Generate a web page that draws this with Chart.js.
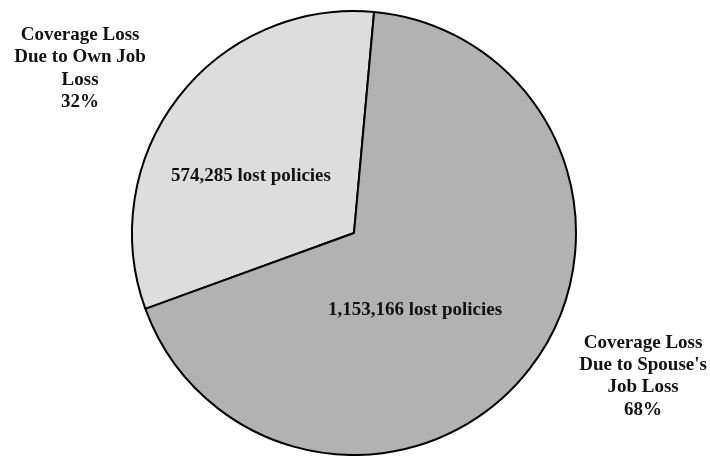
<!DOCTYPE html>
<html>
<head>
<meta charset="utf-8">
<script src="https://cdn.jsdelivr.net/npm/chart.js@4.4.1/dist/chart.umd.min.js"></script>
<style>
    html, body { margin: 0; padding: 0; background: #fff; }
    #wrap { width: 710px; height: 456px; position: relative; }
</style>
</head>
<body>
<div id="wrap"><canvas id="pieChart"></canvas></div>
<script>
// data
const categories = [
    ['Coverage Loss', 'Due to Own Job', 'Loss'],
    ['Coverage Loss', "Due to Spouse's", 'Job Loss']
];
const shares = [32, 68];
const lostPolicies = ['574,285', '1,153,166'];

const sliceColors = ['#dddddd', '#b2b2b2'];

// label placement, in units of the pie radius from its centre
const innerPos = [[-0.464, -0.257], [0.275, 0.347]];
const outerPos = [[-1.234, -0.74], [1.302, 0.646]];

const FONT = 'bold 19px "Liberation Serif", "Times New Roman", serif';
const LINE_H = 22.3;

const labelPlugin = {
    id: 'pieLabels',
    afterDraw(chart) {
        const ctx = chart.ctx;
        const meta = chart.getDatasetMeta(0);
        ctx.save();
        ctx.font = FONT;
        ctx.fillStyle = '#111';
        ctx.textAlign = 'center';
        ctx.textBaseline = 'middle';
        meta.data.forEach((arc, i) => {
            const r = arc.outerRadius;
            // inside text
            ctx.fillText(lostPolicies[i] + ' lost policies',
                arc.x + r * innerPos[i][0], arc.y + r * innerPos[i][1]);
            // outside text
            const lines = categories[i].concat([shares[i] + '%']);
            const x = arc.x + r * outerPos[i][0];
            const y0 = arc.y + r * outerPos[i][1] - (lines.length - 1) * LINE_H / 2;
            lines.forEach((line, j) => ctx.fillText(line, x, y0 + j * LINE_H));
        });
        ctx.restore();
    }
};

new Chart(document.getElementById('pieChart').getContext('2d'), {
    type: 'pie',
    data: {
        labels: categories.map(c => c.join(' ')),
        datasets: [{
            data: shares,
            backgroundColor: sliceColors,
            borderColor: '#000',
            borderWidth: 2
        }]
    },
    options: {
        responsive: true,
        maintainAspectRatio: false,
        animation: false,
        rotation: 250,
        radius: 222,
        layout: { padding: { left: 0, right: 2, top: 10, bottom: 0 } },
        plugins: {
            legend: { display: false },
            tooltip: { enabled: false }
        }
    },
    plugins: [labelPlugin]
});
</script>
</body>
</html>
